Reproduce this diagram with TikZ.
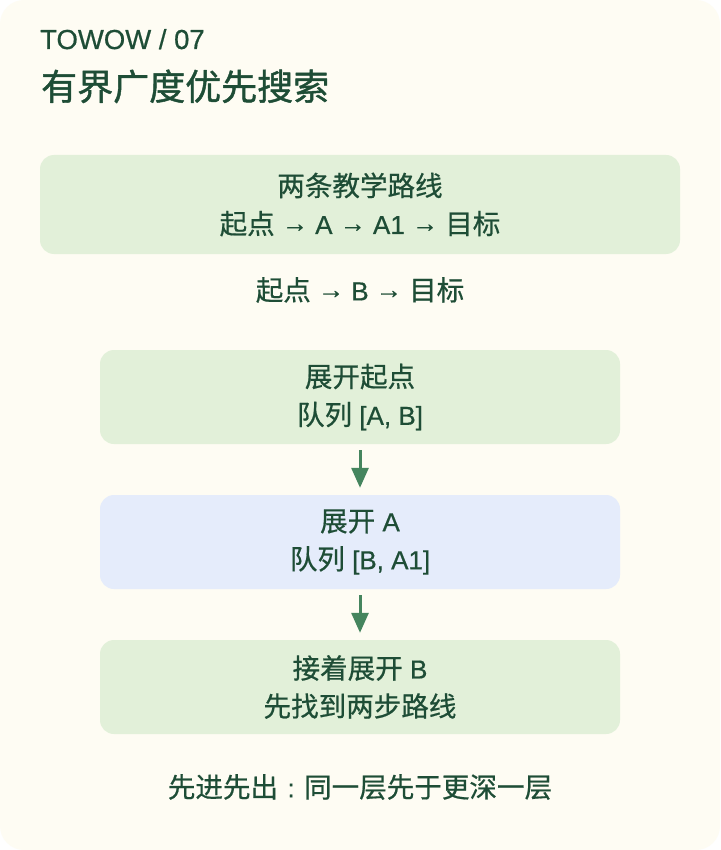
\documentclass[tikz,border=0pt]{standalone}
\usepackage{fontspec}
\setmainfont{Liberation Sans}[FakeBold=0.6]
\newfontfamily\cjk{Noto Sans CJK SC}[FakeBold=0.6,Scale=1.06]
\newfontfamily\cjktitle{Noto Sans CJK SC}[FakeBold=1.2]
\newcommand{\ra}{\raisebox{2pt}{→}}
\usetikzlibrary{arrows.meta,positioning}
\definecolor{cardbg}{HTML}{FEFCF3}
\definecolor{boxgreen}{HTML}{E2F0D9}
\definecolor{boxblue}{HTML}{E5ECFB}
\definecolor{ink}{HTML}{1E4D36}
\definecolor{flow}{HTML}{45855E}
\begin{document}
\begin{tikzpicture}[x=1pt,y=-1pt,>={Triangle[length=20pt,width=17pt]}, line join=round, text=ink]
	\tikzset{every node/.style={inner sep=0pt},
		step box/.style={rounded corners=14pt, fill=boxgreen, minimum width=520pt, minimum height=94pt, align=center, font=\fontsize{26}{38}\selectfont},
		body/.style={font=\fontsize{26}{38}\selectfont},
		flow arrow/.style={->, draw=flow, fill=flow, line width=3pt, shorten <=6pt, shorten >=7pt}}
	\fill[white] (0,0) rectangle (720,850);
	\fill[cardbg, rounded corners=24pt] (0,0) rectangle (720,850);
	\node[anchor=base west, font=\fontsize{27.5}{30}\selectfont] (tag) at (40,49) {TOWOW / 07};
	\node[anchor=base west, font=\fontsize{36}{40}\selectfont] (title) at (41,100) {\cjktitle 有界广度优先搜索};
	\node[step box, minimum width=640pt, minimum height=99pt] (routes) at (360,204.5) {{\cjk 两条教学路线}\\{\cjk 起点} \ra{} A \ra{} A1 \ra{} {\cjk 目标}};
	\node[body] (route2) at (360,290) {{\cjk 起点} \ra{} B \ra{} {\cjk 目标}};
	\node[step box] (start) at (360,397) {{\cjk 展开起点}\\{\cjk 队列} [A, B]};
	\node[step box, fill=boxblue] (expA) at (360,542) {{\cjk 展开} A\\{\cjk 队列} [B, A1]};
	\node[step box] (expB) at (360,687) {{\cjk 接着展开} B\\{\cjk 先找到两步路线}};
	\node[body] (fifo) at (360,787) {{\cjk 先进先出}\makebox[1em]{:}{\cjk 同一层先于更深一层}};
	\draw[flow arrow] (start) -- (expA);
	\draw[flow arrow] (expA) -- (expB);
\end{tikzpicture}
\end{document}
